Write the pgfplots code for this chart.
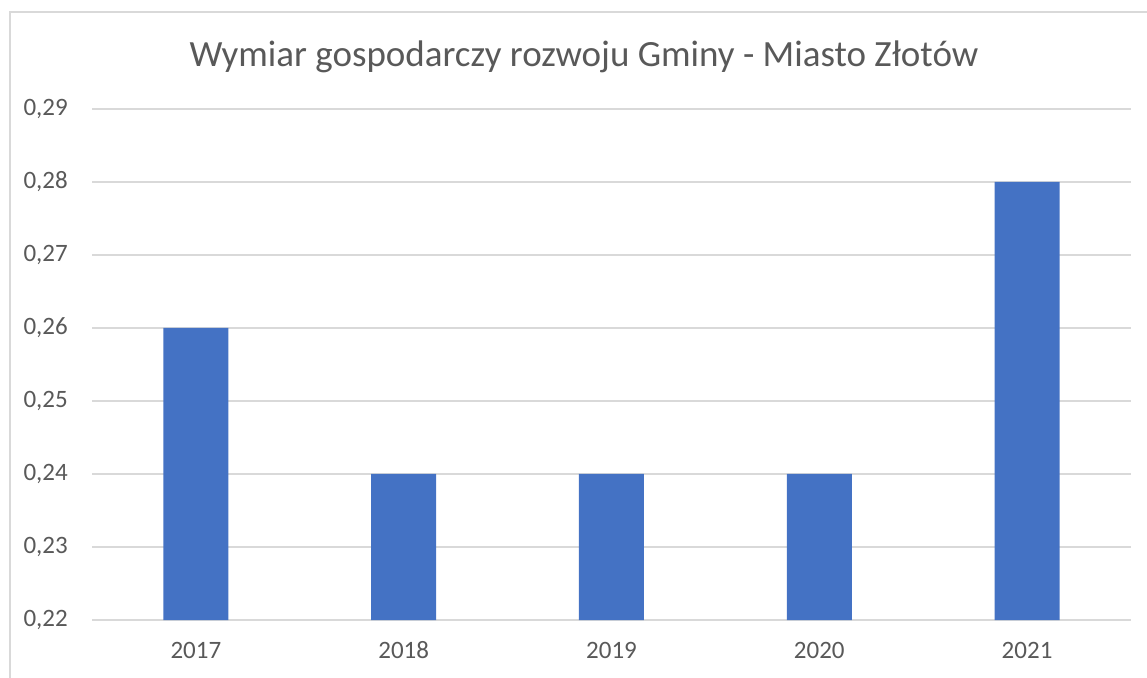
\documentclass[border=0pt]{standalone}
\usepackage{pgfplots}
\pgfplotsset{compat=1.18}
\usepackage{fontspec}
\setmainfont{Carlito}
\definecolor{barblue}{HTML}{4472C4}
\definecolor{gridgray}{HTML}{D9D9D9}
\definecolor{txt}{HTML}{595959}
\begin{document}
\begin{tikzpicture}[x=1pt,y=1pt]
\useasboundingbox (0,0) rectangle (1147,677);
\draw[gridgray, line width=1.5pt] (10,-20) -- (10,665) -- (1180,665);
\node[anchor=base, text=txt, font=\fontsize{37}{44}\selectfont] at (584,610) {Wymiar gospodarczy rozwoju Gminy - Miasto Złotów};
\begin{axis}[
  at={(92pt,57pt)}, anchor=south west,
  scale only axis, width=1039pt, height=511pt,
  xmin=-0.5, xmax=4.5, ymin=0.22, ymax=0.29,
  xtick=data, xticklabels={2017,2018,2019,2020,2021},
  ytick={0.22,0.23,0.24,0.25,0.26,0.27,0.28,0.29},
  /pgf/number format/fixed,
  /pgf/number format/fixed zerofill,
  /pgf/number format/precision=2,
  /pgf/number format/use comma,
  /pgf/number format/assume math mode=true,
  yticklabel style={inner sep=0pt, xshift=-24pt, anchor=east, text=txt, font=\fontsize{25}{30}\selectfont},
  xticklabel style={inner sep=0pt, yshift=-38pt, anchor=base, text=txt, font=\fontsize{25}{30}\selectfont},
  major tick length=0pt,
  axis line style={draw=none},
  ymajorgrids, major grid style={gridgray, line width=1.4pt},
  clip=false,
]
\addplot[ybar, bar width=65pt, fill=barblue, draw=none] coordinates {(0,0.26) (1,0.24) (2,0.24) (3,0.24) (4,0.28)};
\end{axis}
\end{tikzpicture}
\end{document}
